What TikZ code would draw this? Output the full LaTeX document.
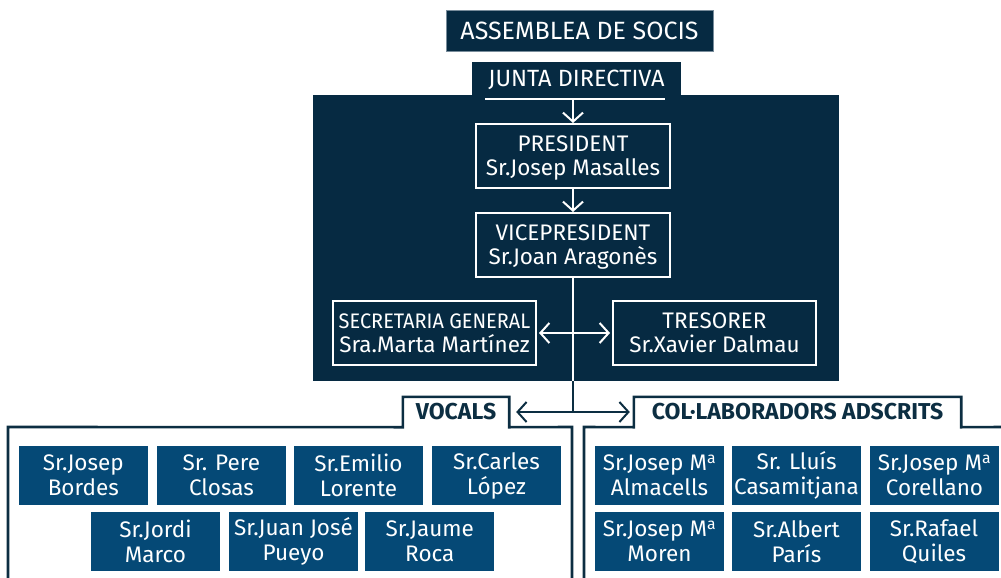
\documentclass[tikz,border=0pt]{standalone}
\usepackage{fontspec}
\setmainfont{Fira Sans}
\usepackage{graphicx}
\usetikzlibrary{arrows.meta}
\definecolor{panelc}{RGB}{6,42,66}
\definecolor{memc}{RGB}{5,73,118}
\definecolor{linec}{RGB}{12,46,66}
\definecolor{edgec}{RGB}{120,140,155}
\newcommand{\ordA}{\textsuperscript{a}}
\begin{document}
\begin{tikzpicture}[x=1pt,y=-1pt,
  hdr/.style={fill=panelc, draw=edgec, line width=0.8pt, text=white, inner sep=0pt,
    font=\fontsize{25}{28}\selectfont},
  wbox/.style={draw=white, line width=2pt, text=white, inner sep=0pt, align=center,
    text depth=0pt, font=\fontsize{22.5}{24}\selectfont},
  mem/.style={fill=memc, text=white, inner sep=0pt, align=center,
    minimum width=129pt, minimum height=59pt, font=\fontsize{22.5}{25}\selectfont},
  tabt/.style={text=linec, inner sep=0pt, minimum height=30pt,
    font=\fontsize{23}{26}\selectfont\bfseries},
  warr/.style={white, line width=2pt, -{Straight Barb[length=9pt,width=20pt]}},
  darr/.style={linec, line width=2pt, -{Straight Barb[length=9pt,width=20pt]}},
  frame/.style={linec, line width=2.6pt},
]
\useasboundingbox (0,0) rectangle (1001,578);
% top header
\node[hdr, minimum width=267pt, minimum height=41pt] (asm) at (579.5,30.5) {ASSEMBLEA DE SOCIS};
% panel
\fill[panelc] (313,95) rectangle (839,381);
\node[fill=panelc, text=white, inner sep=0pt, minimum width=209pt, minimum height=36pt,
  font=\fontsize{23.5}{26}\selectfont] (junta) at (576.5,80) {JUNTA DIRECTIVA};
\draw[white, line width=2pt] (485,99) -- (665,99);
\coordinate (jl) at (573,99);
\node[wbox, minimum width=194pt, minimum height=64pt] (pres) at (573,156) {PRESIDENT\\Sr.Josep Masalles};
\node[wbox, minimum width=194pt, minimum height=64pt] (vp) at (573,245) {VICEPRESIDENT\\Sr.Joan Aragonès};
\node[wbox, minimum width=203pt, minimum height=64pt] (sec) at (434.5,333)
  {\scalebox{0.95}[1]{\fontsize{21}{22}\selectfont SECRETARIA GENERAL}\\Sra.Marta Martínez};
\node[wbox, minimum width=203pt, minimum height=64pt] (tre) at (714.5,333) {TRESORER\\Sr.Xavier Dalmau};
\draw[warr] (jl) -- (pres.north);
\draw[warr] (pres.south) -- (vp.north);
\coordinate (pb) at (573,381);
\coordinate (mid) at (573,412);
\draw[white, line width=2pt] (vp.south) -- (pb);
\draw[warr, {Straight Barb[length=9pt,width=20pt]}-{Straight Barb[length=9pt,width=20pt]}, shorten <=2pt, shorten >=2pt] (sec.east) -- (tre.west);
\draw[linec, line width=2pt] (pb) -- (mid);
% tabs
\node[tabt, minimum width=106pt] (voc) at (456,412) {VOCALS};
\node[tabt, minimum width=327pt] (col) at (797.5,412) {COL·LABORADORS ADSCRITS};
\draw[darr, shorten >=7pt] (mid) -- (voc.east);
\draw[darr, shorten >=4pt] (mid) -- (col.west);
\draw[frame] (8,580) -- (8,427) -- (voc.south west) -- (voc.north west) -- (voc.north east)
  -- (voc.south east) -- (572,427) -- (572,580);
\draw[frame] (584,580) -- (584,427) -- (col.south west) -- (col.north west) -- (col.north east)
  -- (col.south east) -- (1003,427);
% vocals members
\node[mem] (v1) at (83.3,475.5) {Sr.Josep\\Bordes};
\node[mem] (v2) at (221.4,475.5) {Sr. Pere\\Closas};
\node[mem] (v3) at (358.5,475.5) {Sr.Emilio\\Lorente};
\node[mem] (v4) at (496.5,475.5) {Sr.Carles\\López};
\node[mem] (v5) at (155.5,541.5) {Sr.Jordi\\Marco};
\node[mem] (v6) at (293.5,541.5) {Sr.Juan José\\Pueyo};
\node[mem] (v7) at (429.8,541.5) {Sr.Jaume\\Roca};
% collaborators
\node[mem] (c1) at (659.5,475.5) {Sr.Josep M\ordA\\Almacells};
\node[mem] (c2) at (796.5,475.5) {Sr. Lluís\\Casamitjana};
\node[mem] (c3) at (934.5,475.5) {Sr.Josep M\ordA\\Corellano};
\node[mem] (c4) at (659.5,541.5) {Sr.Josep M\ordA\\Moren};
\node[mem] (c5) at (796.5,541.5) {Sr.Albert\\París};
\node[mem] (c6) at (934,541.5) {Sr.Rafael\\Quiles};
\end{tikzpicture}
\end{document}
